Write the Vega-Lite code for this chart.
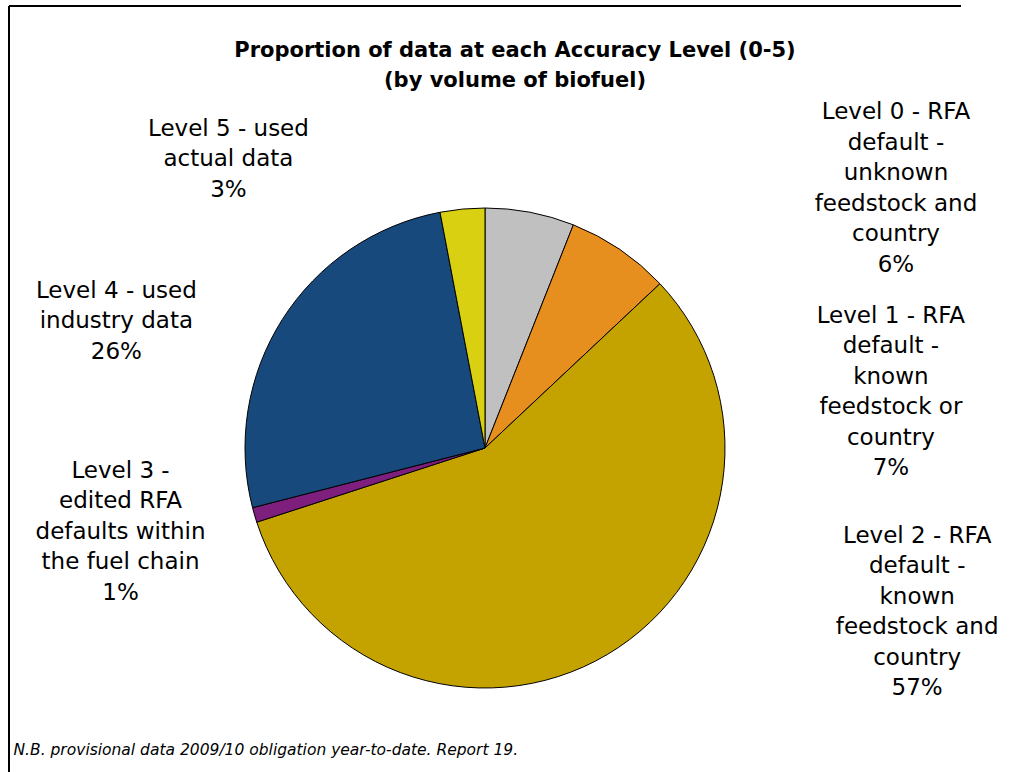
{
  "$schema": "https://vega.github.io/schema/vega-lite/v6.json",
  "width": 952,
  "height": 884,
  "autosize": {"type": "none"},
  "padding": {"left": 9, "top": 6, "right": 57, "bottom": -118},
  "background": "#ffffff",
  "config": {
    "view": {"stroke": "#000000", "strokeWidth": 2, "strokeDash": [952, 1836, 884, 0]},
    "font": "DejaVu Sans"
  },
  "title": {
    "text": ["Proportion of data at each Accuracy Level (0-5)", "(by volume of biofuel)"],
    "font": "DejaVu Sans",
    "fontSize": 21,
    "fontWeight": "bold",
    "color": "#000000",
    "anchor": "middle",
    "frame": "group",
    "dx": 30,
    "offset": -85,
    "baseline": "top",
    "lineHeight": 30
  },
  "data": {
    "values": [
      {"level": 0, "label": "Level 0 - RFA\ndefault -\nunknown\nfeedstock and\ncountry\n6%", "value": 6},
      {"level": 1, "label": "Level 1 - RFA\ndefault -\nknown\nfeedstock or\ncountry\n7%", "value": 7},
      {"level": 2, "label": "Level 2 - RFA\ndefault -\nknown\nfeedstock and\ncountry\n57%", "value": 57},
      {"level": 3, "label": "Level 3 -\nedited RFA\ndefaults within\nthe fuel chain\n1%", "value": 1},
      {"level": 4, "label": "Level 4 - used\nindustry data\n26%", "value": 26},
      {"level": 5, "label": "Level 5 - used\nactual data\n3%", "value": 3}
    ]
  },
  "layer": [
    {
      "mark": {"type": "arc", "outerRadius": 240, "stroke": "#000000", "strokeWidth": 1},
      "encoding": {
        "theta": {"field": "value", "type": "quantitative", "stack": true},
        "order": {"field": "level", "type": "quantitative", "sort": "ascending"},
        "color": {
          "field": "level",
          "type": "nominal",
          "scale": {"domain": [0, 1, 2, 3, 4, 5], "range": ["#C0C0C0", "#E68E1E", "#C4A200", "#7E1F7E", "#18497C", "#D8D010"]},
          "legend": null
        }
      }
    },
    {
      "mark": {
        "type": "text",
        "radius": 240,
        "font": "DejaVu Sans",
        "fontSize": 23,
        "lineHeight": 30.5,
        "lineBreak": "\n",
        "align": "center",
        "baseline": "middle",
        "color": "#000000",
        "dx": {"expr": "datum.level == 0 ? 366 : datum.level == 1 ? 271 : datum.level == 2 ? 310 : datum.level == 3 ? -134 : datum.level == 4 ? -166 : -234"},
        "dy": {"expr": "datum.level == 0 ? -100 : datum.level == 1 ? 66 : datum.level == 2 ? -119 : datum.level == 3 ? -44 : datum.level == 4 ? -28.5 : -80.5"}
      },
      "encoding": {
        "theta": {"field": "value", "type": "quantitative", "stack": true},
        "order": {"field": "level", "type": "quantitative", "sort": "ascending"},
        "detail": {"field": "level", "type": "nominal"},
        "text": {"field": "label", "type": "nominal"}
      }
    },
    {
      "data": {"values": [{"note": 0}]},
      "mark": {"type": "rule", "opacity": 0},
      "encoding": {
        "x": {
          "field": "note",
          "type": "quantitative",
          "axis": {
            "orient": "bottom",
            "offset": -148,
            "domain": false,
            "ticks": false,
            "labels": false,
            "grid": false,
            "title": "N.B. provisional data 2009/10 obligation year-to-date. Report 19.",
            "titleAnchor": "start",
            "titleAlign": "left",
            "titleX": 4,
            "titleFont": "DejaVu Sans",
            "titleFontSize": 15.5,
            "titleFontStyle": "italic",
            "titleFontWeight": "normal",
            "titleColor": "#000000",
            "titlePadding": 0
          }
        }
      }
    }
  ]
}
